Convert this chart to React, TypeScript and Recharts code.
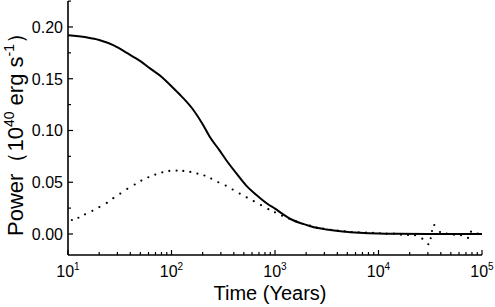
import React from 'react';
import { LineChart, Line, XAxis, YAxis } from 'recharts';

// solid curve
const curveTime = [10, 15, 20, 28, 37, 50, 62, 80, 97, 125, 162, 200, 234, 290, 340, 420, 525, 620, 716, 850, 1000, 1200, 1480, 1800, 2160, 2600, 3150, 4500, 6600, 10000, 15000, 30000, 100000];
const curvePower = [0.192, 0.19, 0.1875, 0.182, 0.175, 0.167, 0.16, 0.152, 0.144, 0.133, 0.12, 0.106, 0.094, 0.081, 0.071, 0.059, 0.047, 0.04, 0.0348, 0.029, 0.0245, 0.019, 0.0135, 0.0102, 0.0077, 0.0057, 0.0043, 0.0024, 0.0012, 0.0005, 0.0002, 0, 0];

// dotted series
const dotTime = [10.9, 12.6, 14.6, 17.2, 20.1, 23.7, 27.4, 32, 37.4, 44.1, 51.1, 59.7, 69.7, 81.5, 95.2, 112, 130, 152, 178, 208, 242, 283, 334, 390, 456, 533, 623, 732, 862, 1000, 1170, 1366, 1585, 1852, 2179, 2529, 2929, 3453, 4035, 4715, 5510, 6438, 7572, 8850, 10340, 12000, 14120, 16500, 19280, 22530, 26500, 30290, 31940, 32880, 34600, 39290, 45600, 53630, 62680, 73230, 78290, 90900];
const dotPower = [0.0135, 0.0157, 0.019, 0.0224, 0.026, 0.03, 0.0346, 0.039, 0.0436, 0.0478, 0.0516, 0.0548, 0.0574, 0.0596, 0.0609, 0.0613, 0.0609, 0.06, 0.0584, 0.0565, 0.0535, 0.05, 0.0468, 0.043, 0.039, 0.0353, 0.0317, 0.0279, 0.024, 0.0209, 0.0176, 0.0149, 0.0125, 0.0099, 0.008, 0.0061, 0.0051, 0.0041, 0.0032, 0.0026, 0.0019, 0.0016, 0.0013, 0.001, 0.0007, 0.0003, 0.0003, -0.0007, -0.001, -0.0012, -0.0045, -0.0099, -0.0041, 0.0029, 0.0087, 0.0019, 0.0003, -0.0007, -0.0012, -0.0038, 0.0022, 0.0003];

const xMajor = [10, 100, 1000, 10000, 100000];
const xMinor = [20, 30, 40, 50, 60, 70, 80, 90, 200, 300, 400, 500, 600, 700, 800, 900, 2000, 3000, 4000, 5000, 6000, 7000, 8000, 9000, 20000, 30000, 40000, 50000, 60000, 70000, 80000, 90000];
const yMajor = [0, 0.05, 0.1, 0.15, 0.2];
const yMinor = [0.025, 0.075, 0.125, 0.175, 0.225];

const curve = curveTime.map((t, i) => ({ t, p: curvePower[i] }));
const dots = dotTime.map((t, i) => ({ t, p: dotPower[i] }));

const font = 'Arial, "Liberation Sans", sans-serif';

const isMajorX = (v: number) => xMajor.includes(v);
const isMajorY = (v: number) => yMajor.some((m) => Math.abs(m - v) < 1e-9);

const makeXTick = (side: 'top' | 'bottom') => (props: any) => {
  const { x, y, payload } = props;
  const v = payload.value;
  const major = isMajorX(v);
  const dir = side === 'top' ? 1 : -1;
  const len = major ? 5 : 3;
  return (
    <g>
      <line x1={x} x2={x} y1={y} y2={y + dir * len} stroke="#000" strokeWidth={1.2} />
      {major && side === 'bottom' && (
        <text x={x} y={y + 22} textAnchor="middle" fontSize={16} fontFamily={font} fill="#000">
          10<tspan dy={-7} fontSize={10}>{Math.round(Math.log10(v))}</tspan>
        </text>
      )}
    </g>
  );
};

const makeYTick = (side: 'left' | 'right') => (props: any) => {
  const { x, y, payload } = props;
  const v = payload.value;
  const major = isMajorY(v);
  const dir = side === 'left' ? 1 : -1;
  const len = major ? 5 : 3;
  return (
    <g>
      <line x1={x} x2={x + dir * len} y1={y} y2={y} stroke="#000" strokeWidth={1.2} />
      {major && side === 'left' && (
        <text x={x - 5} y={y + 6} textAnchor="end" fontSize={16} fontFamily={font} fill="#000">
          {v.toFixed(2)}
        </text>
      )}
    </g>
  );
};

const YLabel = (props: any) => {
  const { viewBox } = props;
  const cx = viewBox.x + 23;
  const cy = viewBox.y + viewBox.height / 2 + 1;
  return (
    <text x={cx} y={cy} transform={`rotate(-90 ${cx} ${cy})`} textAnchor="middle" fontSize={22} fontFamily={font} fill="#000">
      Power（10<tspan dy={-9} fontSize={14}>40</tspan>
      <tspan dy={9}> erg s</tspan>
      <tspan dy={-9} fontSize={14}>-1</tspan>
      <tspan dy={9}>）</tspan>
    </text>
  );
};

const XLabel = (props: any) => {
  const { viewBox } = props;
  return (
    <text x={viewBox.x + viewBox.width / 2 - 5} y={viewBox.y + 45} textAnchor="middle" fontSize={20} fontFamily={font} fill="#000">
      Time (Years)
    </text>
  );
};

const xTicks = [...xMajor, ...xMinor].sort((a, b) => a - b);
const yTicks = [...yMajor, ...yMinor].sort((a, b) => a - b);
const axisLine = { stroke: '#000', strokeWidth: 1.6 };

export default function App() {
  return (
    <div style={{ position: 'absolute', left: 0, top: 0, background: '#fff' }}>
      <LineChart width={495} height={307} margin={{ top: 1, right: 13, bottom: 0, left: 0 }}>
        <XAxis
          xAxisId="b" dataKey="t" type="number" scale="log" domain={[10, 100000]} allowDataOverflow
          ticks={xTicks} interval={0} tickLine={false} tickSize={0} tickMargin={0} height={52}
          axisLine={axisLine} tick={makeXTick('bottom')} label={<XLabel />}
        />
        <XAxis
          xAxisId="t" orientation="top" dataKey="t" type="number" scale="log" domain={[10, 100000]} allowDataOverflow
          ticks={xTicks} interval={0} tickLine={false} tickSize={0} tickMargin={0} height={0}
          axisLine={axisLine} tick={makeXTick('top')}
        />
        <YAxis
          yAxisId="l" dataKey="p" type="number" domain={[-0.0203, 0.2251]} allowDataOverflow
          ticks={yTicks} interval={0} tickLine={false} tickSize={0} tickMargin={0} width={68}
          axisLine={axisLine} tick={makeYTick('left')} label={<YLabel />}
        />
        <YAxis
          yAxisId="r" orientation="right" dataKey="p" type="number" domain={[-0.0203, 0.2251]} allowDataOverflow
          ticks={yTicks} interval={0} tickLine={false} tickSize={0} tickMargin={0} width={0}
          axisLine={axisLine} tick={makeYTick('right')}
        />
        <Line
          xAxisId="b" yAxisId="l" data={curve} dataKey="p" type="monotone" stroke="#000" strokeWidth={2}
          dot={false} isAnimationActive={false}
        />
        <Line
          xAxisId="b" yAxisId="l" data={dots} dataKey="p" stroke="none"
          dot={{ r: 1.1, fill: '#000', stroke: 'none' }} isAnimationActive={false}
        />
      </LineChart>
    </div>
  );
}
